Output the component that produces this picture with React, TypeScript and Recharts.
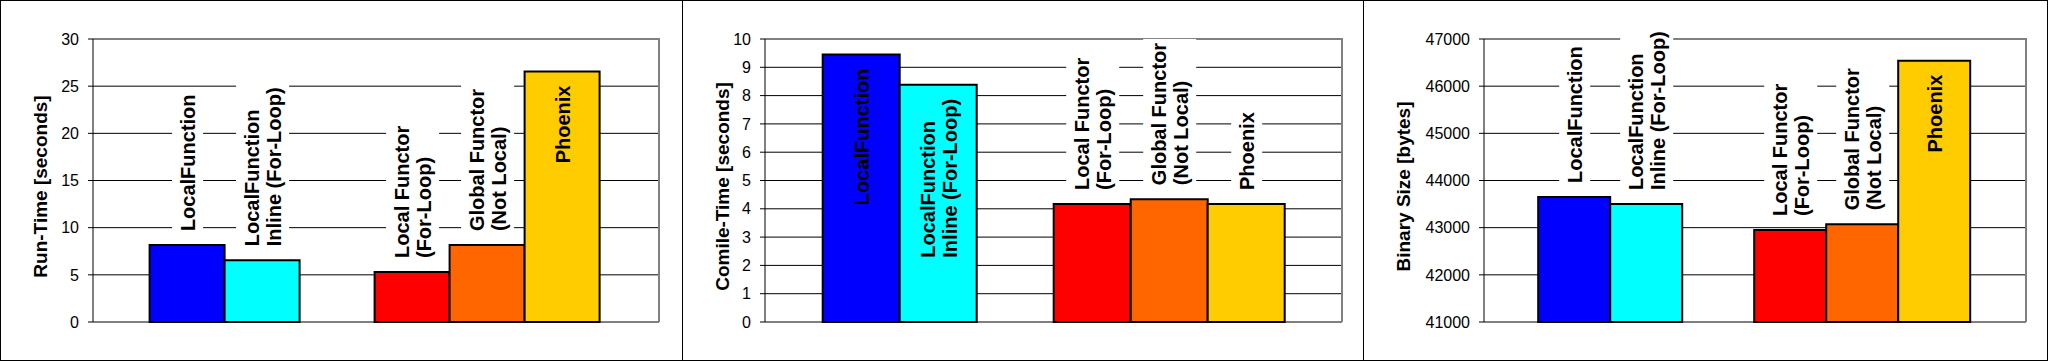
import React from 'react';
import { BarChart, Bar, XAxis, YAxis, CartesianGrid, usePlotArea } from 'recharts';

// one category, six series (the third one is Excel's blank spacer series)
const seriesNames = [
  'LocalFunction',
  'LocalFunction\nInline (For-Loop)',
  '',
  'Local Functor\n(For-Loop)',
  'Global Functor\n(Not Local)',
  'Phoenix',
];
const seriesColors = ['#0000FF', '#00FFFF', '#FFFFFF', '#FF0000', '#FF6600', '#FFCC00'];

const runTime = [8.15, 6.55, null, 5.3, 8.15, 26.55];
const compileTime = [9.45, 8.38, null, 4.17, 4.34, 4.17];
const binarySize = [43650, 43500, null, 42950, 43070, 46540];

const runTimeTicks = [0, 5, 10, 15, 20, 25, 30];
const compileTimeTicks = [0, 1, 2, 3, 4, 5, 6, 7, 8, 9, 10];
const binarySizeTicks = [41000, 42000, 43000, 44000, 45000, 46000, 47000];

const FONT = '"Liberation Sans", Arial, sans-serif';
const LABEL_SIZE = 20;
const LINE_PITCH = 22;
const LABEL_GAP = 14;

let measureCtx: CanvasRenderingContext2D | null = null;
function textWidth(s: string) {
  if (!measureCtx) measureCtx = document.createElement('canvas').getContext('2d');
  if (!measureCtx) return s.length * 11;
  measureCtx.font = `bold ${LABEL_SIZE}px ${FONT}`;
  return measureCtx.measureText(s).width;
}

function BarName(props: any) {
  const { x, y, width, value, name } = props;
  if (!name || value == null) return null;
  const lines: string[] = name.split('\n');
  const lens = lines.map(textWidth);
  const len = Math.max(...lens);
  const cx = x + width / 2 + 1;
  // Excel puts the name above the bar, unless it would run off the chart
  const outside = y - LABEL_GAP - len >= 8;
  const bottom = outside ? y - LABEL_GAP : y + LABEL_GAP + len;
  const blockW = lines.length * LINE_PITCH;
  return (
    <g>
      {outside && (
        <rect x={cx - blockW / 2 - 5} y={bottom - len - 4} width={blockW + 9} height={len + 8} fill="#fff" />
      )}
      {lines.map((line, i) => {
        const lx = cx + (i - (lines.length - 1) / 2) * LINE_PITCH;
        return (
          <text
            key={i}
            transform={`translate(${lx},${bottom}) rotate(-90)`}
            dy="0.35em"
            textAnchor="start"
            textLength={lens[i]}
            lengthAdjust="spacingAndGlyphs"
            fontFamily={FONT}
            fontSize={LABEL_SIZE}
            fontWeight="bold"
            fill="#000"
          >
            {line}
          </text>
        );
      })}
    </g>
  );
}

function PlotFrame() {
  const area = usePlotArea();
  if (!area) return null;
  const { x, y, width, height } = area;
  return (
    <polyline
      points={`${x},${y} ${x + width},${y} ${x + width},${y + height}`}
      fill="none"
      stroke="#808080"
      strokeWidth={2}
    />
  );
}

function AxisTitle({ text }: { text: string }) {
  const area = usePlotArea();
  if (!area) return null;
  const cy = area.y + area.height / 2 + 6;
  return (
    <text
      transform={`translate(40,${cy}) rotate(-90)`}
      dy="0.35em"
      textAnchor="middle"
      fontFamily={FONT}
      fontSize={19}
      fontWeight="bold"
      fill="#000"
    >
      {text}
    </text>
  );
}

const makeRow = (values: (number | null)[]) => {
  const row: Record<string, any> = { name: 'all' };
  values.forEach((v, i) => (row[`s${i}`] = v));
  return [row];
};

const panels = [
  { key: 'run', left: 0, width: 683, plotLeft: 93, right: 24, title: 'Run-Time [seconds]', values: runTime, ticks: runTimeTicks },
  { key: 'compile', left: 682, width: 682, plotLeft: 83, right: 22, title: 'Comile-Time [seconds]', values: compileTime, ticks: compileTimeTicks },
  { key: 'size', left: 1363, width: 685, plotLeft: 121, right: 22, title: 'Binary Size [bytes]', values: binarySize, ticks: binarySizeTicks },
];

export default function App() {
  return (
    <div style={{ position: 'fixed', left: 0, top: 0, width: 2048, height: 361, background: '#fff' }}>
      {panels.map((p) => (
        <div
          key={p.key}
          style={{
            position: 'absolute',
            left: p.left,
            top: 0,
            width: p.width,
            height: 361,
            border: '1px solid #000',
            boxSizing: 'border-box',
          }}
        >
          <div style={{ position: 'absolute', left: -1, top: -1 }}>
            <BarChart
              width={p.width}
              height={361}
              data={makeRow(p.values)}
              margin={{ top: 39, right: p.right, bottom: 39, left: 0 }}
              barCategoryGap="10%"
              barGap={0}
            >
              <CartesianGrid vertical={false} stroke="#000" />
              <PlotFrame />
              <AxisTitle text={p.title} />
              <XAxis
                dataKey="name"
                height={0}
                tick={false}
                tickLine={false}
                axisLine={{ stroke: '#808080', strokeWidth: 2 }}
              />
              <YAxis
                width={p.plotLeft}
                domain={[p.ticks[0], p.ticks[p.ticks.length - 1]]}
                ticks={p.ticks}
                interval={0}
                tickSize={5}
                tickMargin={9}
                tickLine={{ stroke: '#000' }}
                axisLine={{ stroke: '#000' }}
                tick={{ fontSize: 16, fill: '#000', fontFamily: FONT }}
              />
              {seriesNames.map((name, i) => (
                <Bar
                  key={i}
                  dataKey={`s${i}`}
                  fill={seriesColors[i]}
                  stroke="#000"
                  strokeWidth={2}
                  isAnimationActive={false}
                  label={(lp: any) => <BarName {...lp} name={name} />}
                />
              ))}
            </BarChart>
          </div>
        </div>
      ))}
    </div>
  );
}
